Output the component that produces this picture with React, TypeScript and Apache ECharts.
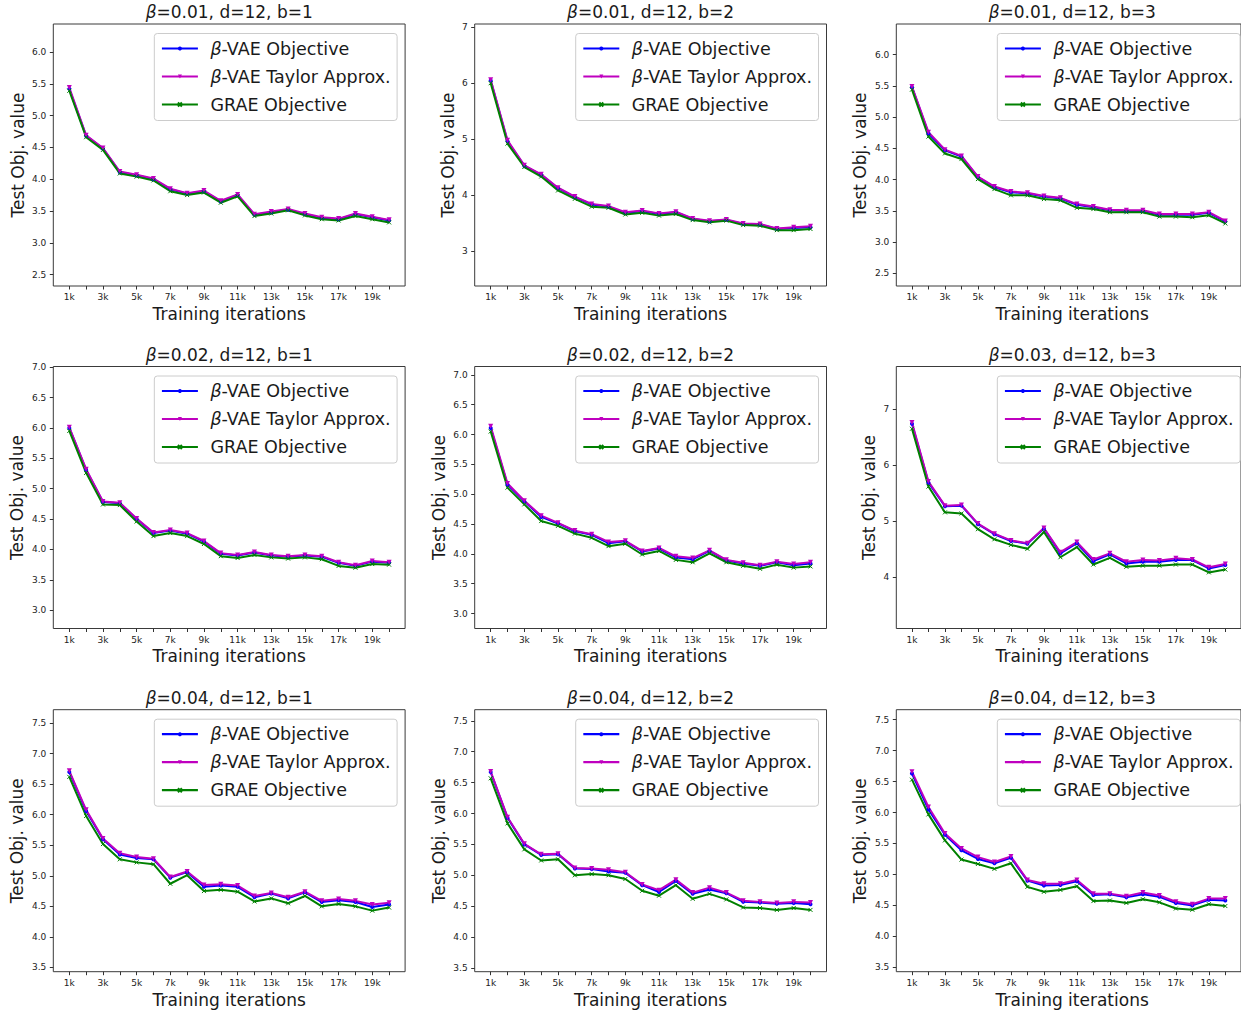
import React, { useEffect, useRef } from "react";
import * as echarts from "echarts";

// ---------- data ----------
const ITERS = [1, 2, 3, 4, 5, 6, 7, 8, 9, 10, 11, 12, 13, 14, 15, 16, 17, 18, 19, 20];
const X_TICKS = ITERS;
const X_LABELS = [1, 3, 5, 7, 9, 11, 13, 15, 17, 19];
const SERIES_NAMES = ["β-VAE Objective", "β-VAE Taylor Approx.", "GRAE Objective"];

const TITLES = [
  "β=0.01, d=12, b=1", "β=0.01, d=12, b=2", "β=0.01, d=12, b=3",
  "β=0.02, d=12, b=1", "β=0.02, d=12, b=2", "β=0.03, d=12, b=3",
  "β=0.04, d=12, b=1", "β=0.04, d=12, b=2", "β=0.04, d=12, b=3",
];

const VAE_1 = [5.42, 4.68, 4.48, 4.11, 4.06, 4.0, 3.84, 3.77, 3.81, 3.65, 3.75, 3.44, 3.48, 3.52, 3.45, 3.39, 3.37, 3.45, 3.4, 3.35];
const TAY_1 = [5.44, 4.69, 4.49, 4.12, 4.07, 4.01, 3.85, 3.78, 3.82, 3.66, 3.76, 3.45, 3.49, 3.53, 3.46, 3.4, 3.38, 3.46, 3.41, 3.36];
const GRAE_1 = [5.39, 4.66, 4.46, 4.09, 4.04, 3.98, 3.81, 3.75, 3.79, 3.63, 3.73, 3.42, 3.46, 3.51, 3.43, 3.37, 3.35, 3.42, 3.37, 3.32];

const VAE_2 = [6.05, 4.96, 4.52, 4.36, 4.12, 3.96, 3.83, 3.79, 3.68, 3.71, 3.66, 3.69, 3.57, 3.53, 3.55, 3.48, 3.47, 3.39, 3.41, 3.42];
const TAY_2 = [6.06, 4.98, 4.53, 4.37, 4.13, 3.97, 3.84, 3.8, 3.69, 3.72, 3.67, 3.7, 3.58, 3.54, 3.56, 3.49, 3.48, 3.4, 3.42, 3.44];
const GRAE_2 = [6.0, 4.92, 4.5, 4.33, 4.08, 3.93, 3.79, 3.77, 3.65, 3.68, 3.63, 3.66, 3.55, 3.51, 3.54, 3.46, 3.45, 3.37, 3.37, 3.39];

const VAE_3 = [5.48, 4.74, 4.47, 4.37, 4.04, 3.88, 3.8, 3.78, 3.73, 3.7, 3.6, 3.56, 3.51, 3.5, 3.5, 3.44, 3.44, 3.44, 3.47, 3.33];
const TAY_3 = [5.49, 4.76, 4.48, 4.38, 4.05, 3.89, 3.81, 3.79, 3.74, 3.71, 3.61, 3.57, 3.52, 3.51, 3.51, 3.45, 3.45, 3.45, 3.48, 3.34];
const GRAE_3 = [5.44, 4.69, 4.42, 4.33, 4.01, 3.85, 3.75, 3.75, 3.69, 3.67, 3.55, 3.53, 3.48, 3.48, 3.48, 3.41, 3.41, 3.4, 3.43, 3.3];

const VAE_4 = [6.0, 5.31, 4.78, 4.76, 4.5, 4.27, 4.31, 4.26, 4.13, 3.93, 3.9, 3.95, 3.9, 3.88, 3.9, 3.88, 3.78, 3.73, 3.8, 3.78];
const TAY_4 = [6.01, 5.32, 4.79, 4.77, 4.51, 4.28, 4.32, 4.27, 4.14, 3.94, 3.91, 3.96, 3.91, 3.89, 3.91, 3.89, 3.79, 3.74, 3.81, 3.79];
const GRAE_4 = [5.95, 5.26, 4.74, 4.73, 4.46, 4.22, 4.27, 4.22, 4.09, 3.89, 3.86, 3.91, 3.87, 3.85, 3.87, 3.84, 3.73, 3.7, 3.76, 3.75];

const VAE_5 = [6.11, 5.16, 4.88, 4.62, 4.51, 4.38, 4.32, 4.18, 4.21, 4.04, 4.09, 3.94, 3.91, 4.05, 3.89, 3.84, 3.8, 3.86, 3.81, 3.84];
const TAY_5 = [6.14, 5.18, 4.89, 4.64, 4.52, 4.39, 4.33, 4.2, 4.22, 4.05, 4.1, 3.96, 3.93, 4.06, 3.9, 3.85, 3.81, 3.87, 3.83, 3.86];
const GRAE_5 = [6.05, 5.11, 4.83, 4.55, 4.47, 4.34, 4.27, 4.13, 4.17, 3.99, 4.05, 3.9, 3.86, 4.01, 3.86, 3.8, 3.75, 3.82, 3.77, 3.79];

const VAE_6 = [6.74, 5.69, 5.27, 5.28, 4.95, 4.77, 4.65, 4.6, 4.87, 4.43, 4.61, 4.29, 4.41, 4.25, 4.28, 4.28, 4.31, 4.31, 4.16, 4.22];
const TAY_6 = [6.76, 5.71, 5.28, 5.29, 4.96, 4.78, 4.66, 4.61, 4.88, 4.45, 4.63, 4.32, 4.43, 4.28, 4.31, 4.3, 4.34, 4.32, 4.18, 4.24];
const GRAE_6 = [6.65, 5.62, 5.16, 5.14, 4.86, 4.68, 4.58, 4.51, 4.81, 4.36, 4.54, 4.23, 4.35, 4.19, 4.21, 4.21, 4.23, 4.23, 4.09, 4.14];

const VAE_7 = [6.7, 6.06, 5.6, 5.35, 5.29, 5.27, 4.97, 5.06, 4.82, 4.84, 4.82, 4.65, 4.71, 4.63, 4.73, 4.57, 4.6, 4.57, 4.49, 4.53];
const TAY_7 = [6.72, 6.08, 5.61, 5.37, 5.31, 5.28, 4.98, 5.07, 4.85, 4.86, 4.84, 4.67, 4.72, 4.65, 4.74, 4.59, 4.62, 4.59, 4.53, 4.56];
const GRAE_7 = [6.62, 5.98, 5.52, 5.27, 5.22, 5.19, 4.87, 5.01, 4.75, 4.77, 4.74, 4.58, 4.63, 4.55, 4.67, 4.5, 4.54, 4.5, 4.43, 4.48];

const VAE_8 = [6.67, 5.93, 5.5, 5.33, 5.34, 5.11, 5.1, 5.06, 5.04, 4.84, 4.73, 4.91, 4.7, 4.77, 4.71, 4.57, 4.56, 4.54, 4.55, 4.53];
const TAY_8 = [6.68, 5.94, 5.51, 5.34, 5.35, 5.12, 5.11, 5.09, 5.05, 4.85, 4.76, 4.93, 4.72, 4.8, 4.72, 4.59, 4.57, 4.55, 4.57, 4.56];
const GRAE_8 = [6.57, 5.84, 5.42, 5.24, 5.26, 5.0, 5.02, 5.0, 4.94, 4.75, 4.67, 4.84, 4.62, 4.7, 4.61, 4.48, 4.47, 4.44, 4.47, 4.44];

const VAE_9 = [6.63, 6.05, 5.64, 5.39, 5.25, 5.18, 5.27, 4.9, 4.82, 4.83, 4.89, 4.67, 4.68, 4.63, 4.68, 4.64, 4.54, 4.5, 4.59, 4.58];
const TAY_9 = [6.66, 6.09, 5.66, 5.42, 5.28, 5.2, 5.29, 4.91, 4.85, 4.85, 4.91, 4.69, 4.69, 4.65, 4.71, 4.66, 4.56, 4.52, 4.61, 4.61];
const GRAE_9 = [6.53, 5.97, 5.55, 5.24, 5.17, 5.09, 5.18, 4.8, 4.72, 4.75, 4.81, 4.57, 4.58, 4.54, 4.6, 4.55, 4.45, 4.43, 4.52, 4.49];

const Y_TICKS_HALF_25 = [2.5, 3.0, 3.5, 4.0, 4.5, 5.0, 5.5, 6.0];
const Y_TICKS_INT_37 = [3, 4, 5, 6, 7];
const Y_TICKS_HALF_30 = [3.0, 3.5, 4.0, 4.5, 5.0, 5.5, 6.0, 6.5, 7.0];
const Y_TICKS_INT_47 = [4, 5, 6, 7];
const Y_TICKS_HALF_35 = [3.5, 4.0, 4.5, 5.0, 5.5, 6.0, 6.5, 7.0, 7.5];

const PANELS = [
  { vae: VAE_1, tay: TAY_1, grae: GRAE_1, ticks: Y_TICKS_HALF_25, dec: 1 },
  { vae: VAE_2, tay: TAY_2, grae: GRAE_2, ticks: Y_TICKS_INT_37, dec: 0 },
  { vae: VAE_3, tay: TAY_3, grae: GRAE_3, ticks: Y_TICKS_HALF_25, dec: 1 },
  { vae: VAE_4, tay: TAY_4, grae: GRAE_4, ticks: Y_TICKS_HALF_30, dec: 1 },
  { vae: VAE_5, tay: TAY_5, grae: GRAE_5, ticks: Y_TICKS_HALF_30, dec: 1 },
  { vae: VAE_6, tay: TAY_6, grae: GRAE_6, ticks: Y_TICKS_INT_47, dec: 0 },
  { vae: VAE_7, tay: TAY_7, grae: GRAE_7, ticks: Y_TICKS_HALF_35, dec: 1 },
  { vae: VAE_8, tay: TAY_8, grae: GRAE_8, ticks: Y_TICKS_HALF_35, dec: 1 },
  { vae: VAE_9, tay: TAY_9, grae: GRAE_9, ticks: Y_TICKS_HALF_35, dec: 1 },
];

// ---------- layout / style ----------
const W = 1241;
const H = 1013;
const FONT = "DejaVu Sans";
const TXT = "#1a1a1a";
const COL_LEFT = [53.3, 474.7, 896.3];
const ROW_TOP = [24, 366.5, 709.7];
const BOX_W = 351.8;
const BOX_H = 262;
const YLABEL_X = [
  [18.3, 448.3, 859.7],
  [16.7, 439.3, 868.7],
  [16.7, 439.3, 859.7],
];
const BLUE = "#0000ff";
const MAGENTA = "#bf00bf";
const GREEN = "#008000";
const LEG_FS = 17.5;

const italicRich = {
  i: { fontStyle: "italic", fontSize: 17, fontFamily: FONT, color: TXT, fill: TXT },
};

function buildOption() {
  const grid: any[] = [];
  const xAxis: any[] = [];
  const yAxis: any[] = [];
  const series: any[] = [];
  const legend: any[] = [];
  const graphic: any[] = [];

  PANELS.forEach((p, i) => {
    const r = Math.floor(i / 3);
    const c = i % 3;
    const left = COL_LEFT[c];
    const top = ROW_TOP[r];
    const all = [...p.vae, ...p.tay, ...p.grae];
    const ymin = Math.min(...all) - 1;
    const ymax = Math.max(...all) + 1;

    grid.push({
      left,
      top,
      width: BOX_W,
      height: BOX_H,
      show: true,
      borderColor: "#3a3a3a",
      borderWidth: 1,
      backgroundColor: "transparent",
      containLabel: false,
    });

    xAxis.push({
      type: "value",
      gridIndex: i,
      min: 0.05,
      max: 20.95,
      axisLine: { show: false },
      splitLine: { show: false },
      axisTick: {
        show: true,
        inside: false,
        length: 3.5,
        customValues: X_TICKS,
        lineStyle: { color: "#333", width: 1 },
      },
      axisLabel: {
        customValues: X_LABELS,
        formatter: (v: number) => `${v}k`,
        fontSize: 9,
        fontFamily: FONT,
        color: "#222",
        margin: 6.5,
      },
    });

    yAxis.push({
      type: "value",
      gridIndex: i,
      min: ymin,
      max: ymax,
      axisLine: { show: false },
      splitLine: { show: false },
      axisTick: {
        show: true,
        inside: false,
        length: 3.5,
        customValues: p.ticks,
        lineStyle: { color: "#333", width: 1 },
      },
      axisLabel: {
        customValues: p.ticks,
        formatter: (v: number) => v.toFixed(p.dec),
        fontSize: 9,
        fontFamily: FONT,
        color: "#222",
        margin: 7,
      },
    });

    const mk = (name: string, vals: number[], color: string, symbol: string, size: number, rot: number, extraItem: any) => ({
      type: "line",
      name,
      xAxisIndex: i,
      yAxisIndex: i,
      data: ITERS.map((x, j) => [x, vals[j]]),
      symbol,
      symbolSize: size,
      symbolRotate: rot,
      showSymbol: true,
      showAllSymbol: true,
      lineStyle: { color, width: 2 },
      itemStyle: { color, ...extraItem },
      silent: true,
      emphasis: { disabled: true },
    });

    series.push(mk(SERIES_NAMES[0], p.vae, BLUE, "circle", 4, 0, {}));
    series.push(mk(SERIES_NAMES[1], p.tay, MAGENTA, "triangle", 5, 180, {}));
    series.push(
      mk(SERIES_NAMES[2], p.grae, GREEN, "path://M0 0L10 10M10 0L0 10", 4, 0, {
        borderColor: GREEN,
        borderWidth: 1,
      })
    );

    legend.push({
      orient: "vertical",
      right: W - (left + BOX_W - 8),
      top: top + 9.5,
      data: SERIES_NAMES,
      itemWidth: 36,
      itemHeight: 5,
      itemGap: 8,
      padding: [5, 6.5, 6, 6.5],
      borderColor: "#cccccc",
      borderWidth: 1,
      borderRadius: 3,
      backgroundColor: "rgba(255,255,255,0.8)",
      selectedMode: false,
      formatter: (name: string) => name.replace("β", "{i|β}"),
      lineStyle: { width: 2.2 },
      textStyle: {
        fontSize: LEG_FS,
        fontFamily: FONT,
        color: TXT,
        lineHeight: 20,
        padding: [0, 0, 0, 7.5],
        rich: { i: { fontStyle: "italic", fontSize: LEG_FS, fontFamily: FONT, color: TXT, lineHeight: 20 } },
      },
    });

    // title
    graphic.push({
      type: "text",
      x: left + BOX_W / 2,
      y: top - 11.7,
      silent: true,
      style: {
        text: TITLES[i].replace("β", "{i|β}"),
        fontSize: 17,
        fontFamily: FONT,
        fill: TXT,
        textAlign: "center",
        textVerticalAlign: "middle",
        align: "center",
        verticalAlign: "middle",
        rich: italicRich,
      },
    });
    // y label
    graphic.push({
      type: "text",
      x: YLABEL_X[r][c],
      y: top + BOX_H / 2,
      rotation: Math.PI / 2,
      silent: true,
      style: {
        text: "Test Obj. value",
        fontSize: 17,
        fontFamily: FONT,
        fill: TXT,
        textAlign: "center",
        textVerticalAlign: "middle",
        align: "center",
        verticalAlign: "middle",
      },
    });
    // x label
    graphic.push({
      type: "text",
      x: left + BOX_W / 2,
      y: top + BOX_H + 27.8,
      silent: true,
      style: {
        text: "Training iterations",
        fontSize: 17,
        fontFamily: FONT,
        fill: TXT,
        textAlign: "center",
        textVerticalAlign: "middle",
        align: "center",
        verticalAlign: "middle",
      },
    });
  });

  return {
    animation: false,
    backgroundColor: "#ffffff",
    textStyle: { fontFamily: FONT },
    grid,
    xAxis,
    yAxis,
    series,
    legend,
    graphic,
  };
}

export default function App() {
  const ref = useRef<HTMLDivElement>(null);
  useEffect(() => {
    if (!ref.current) return;
    const chart = echarts.init(ref.current, null, { renderer: "svg" });
    chart.setOption(buildOption() as any);
    return () => chart.dispose();
  }, []);
  return (
    <div
      ref={ref}
      style={{ position: "absolute", left: 0, top: 0, width: W, height: H, background: "#fff" }}
    />
  );
}
